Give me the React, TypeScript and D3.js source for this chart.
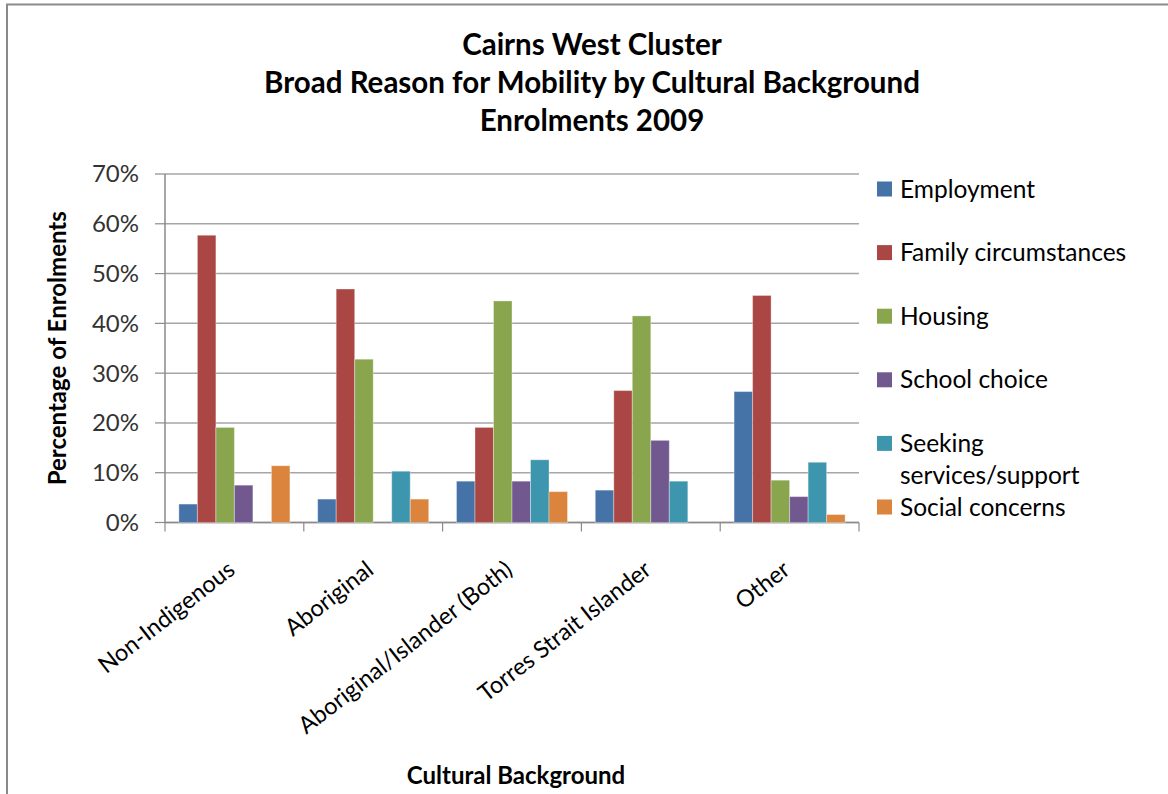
import React from "react";
import * as d3 from "d3";

const categories = ["Non-Indigenous", "Aboriginal", "Aboriginal/Islander (Both)", "Torres Strait Islander", "Other"];
const seriesNames = ["Employment", "Family circumstances", "Housing", "School choice", "Seeking services/support", "Social concerns"];
const legendLines = [["Employment"], ["Family circumstances"], ["Housing"], ["School choice"], ["Seeking", "services/support"], ["Social concerns"]];
const seriesColors = ["#4572A7", "#AA4643", "#89A54E", "#71588F", "#3D96AE", "#DB843D"];
const employment = [3.7, 4.7, 8.3, 6.5, 26.3];
const family = [57.7, 46.9, 19.1, 26.5, 45.6];
const housing = [19.1, 32.8, 44.5, 41.5, 8.5];
const schoolChoice = [7.5, 0, 8.3, 16.5, 5.2];
const seeking = [0, 10.3, 12.6, 8.3, 12.1];
const social = [11.4, 4.7, 6.2, 0, 1.6];
const yTicks = [0, 10, 20, 30, 40, 50, 60, 70];
const titleLines = ["Cairns West Cluster", "Broad Reason for Mobility by Cultural Background", "Enrolments 2009"];

const seriesValues = [employment, family, housing, schoolChoice, seeking, social];

const FONT = "Lato, 'Open Sans', sans-serif";

export default function App() {
  const W = 1168, H = 794;
  const left = 165, right = 859, top = 174, bottom = 522.5;
  const x0 = d3.scaleBand<string>().domain(categories).range([left, right]).paddingInner(0).paddingOuter(0);
  const groupW = x0.bandwidth();
  const barW = groupW / (seriesNames.length + 1.5);
  const x1 = d3.scaleBand<string>().domain(seriesNames).range([barW * 0.75, groupW - barW * 0.75]).padding(0);
  const y = d3.scaleLinear().domain([0, 70]).range([bottom, top]);
  const ticksX = categories.map((c) => x0(c)!).concat([right]);

  return (
    <svg width={W} height={H} style={{ position: "absolute", left: 0, top: 0, background: "#fff" }} fontFamily={FONT}>
      <rect x={0} y={0} width={W} height={H} fill="#fff" />
      <line x1={6} x2={W} y1={4.5} y2={4.5} stroke="#8a8a8a" strokeWidth={2} />
      <line x1={7} x2={7} y1={4} y2={H} stroke="#8a8a8a" strokeWidth={2} />

      {titleLines.map((t, i) => (
        <text key={t} x={592} y={55 + i * 38} textAnchor="middle" fontSize={29.5} fontWeight={700} fill="#000">{t}</text>
      ))}

      {/* gridlines */}
      {yTicks.map((t) => (
        <g key={t}>
          <line x1={left} x2={right} y1={y(t)} y2={y(t)} stroke="#a6a6a6" strokeWidth={1.5} />
          <line x1={155} x2={left} y1={y(t)} y2={y(t)} stroke="#8a8a8a" strokeWidth={1.2} />
          <text x={139} y={y(t)} dy="0.35em" textAnchor="end" fontSize={24} fill="#333">{t}%</text>
        </g>
      ))}
      <line x1={left} x2={left} y1={top} y2={bottom} stroke="#8a8a8a" strokeWidth={1.5} />
      <line x1={left} x2={right} y1={bottom} y2={bottom} stroke="#8a8a8a" strokeWidth={1.5} />
      {ticksX.map((tx, i) => (
        <line key={i} x1={tx} x2={tx} y1={bottom} y2={bottom + 9} stroke="#8a8a8a" strokeWidth={1.2} />
      ))}

      {/* bars */}
      {categories.map((c, ci) => (
        <g key={c} transform={`translate(${x0(c)},0)`}>
          {seriesNames.map((s, si) => {
            const v = seriesValues[si][ci];
            if (!v) return null;
            return (
              <rect key={s} x={x1(s)!} y={y(v)} width={x1.bandwidth()} height={bottom - y(v)}
                fill={seriesColors[si]} stroke="rgba(255,255,255,0.35)" strokeWidth={1} />
            );
          })}
        </g>
      ))}

      {/* x labels */}
      {categories.map((c) => {
        const cx = x0(c)! + groupW / 2 + 2;
        const cy = bottom + 50;
        return (
          <text key={c} transform={`translate(${cx},${cy}) rotate(-38)`} textAnchor="end" fontSize={23.5} fill="#000">{c}</text>
        );
      })}

      <text x={(left + right) / 2 + 4} y={784} textAnchor="middle" fontSize={24} fontWeight={700} fill="#000">Cultural Background</text>
      <text transform={`translate(66,${(top + bottom) / 2}) rotate(-90)`} textAnchor="middle" fontSize={24} fontWeight={700} fill="#000">Percentage of Enrolments</text>

      {/* legend */}
      {legendLines.map((lines, i) => {
        const ly = 189 + i * 63.6;
        return (
          <g key={i}>
            <rect x={877} y={ly - 7.5} width={15} height={15} fill={seriesColors[i]} />
            {lines.map((ln, j) => (
              <text key={j} x={900} y={ly + j * 32} dy="0.35em" fontSize={24.5} fill="#000">{ln}</text>
            ))}
          </g>
        );
      })}
    </svg>
  );
}
